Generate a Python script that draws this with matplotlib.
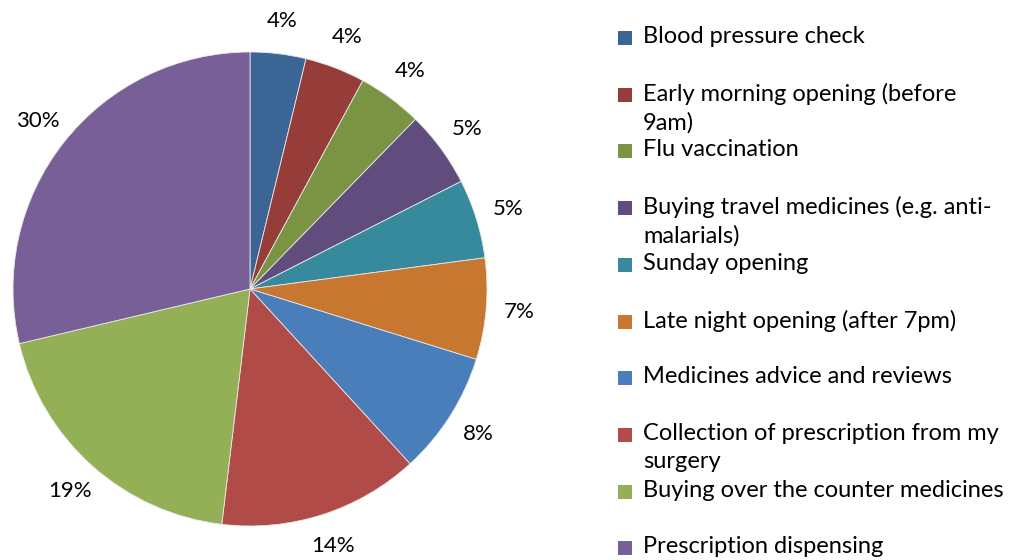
import matplotlib.pyplot as plt
from matplotlib.patches import Rectangle

# Services and their share (wedge sizes, labels as printed)
categories = [
    "Blood pressure check",
    "Early morning opening (before\n9am)",
    "Flu vaccination",
    "Buying travel medicines (e.g. anti-\nmalarials)",
    "Sunday opening",
    "Late night opening (after 7pm)",
    "Medicines advice and reviews",
    "Collection of prescription from my\nsurgery",
    "Buying over the counter medicines",
    "Prescription dispensing",
]
shares = [3.8, 4.1, 4.4, 5.2, 5.4, 6.9, 8.4, 13.7, 19.4, 28.7]
pct_labels = ["4%", "4%", "4%", "5%", "5%", "7%", "8%", "14%", "19%", "30%"]
colors = [
    "#3A6595", "#963D3A", "#7A9443", "#604D7E", "#378A9E",
    "#C7772F", "#4A7EBB", "#B14B47", "#93B056", "#795F97",
]

plt.rcParams["font.family"] = ["Lato", "DejaVu Sans"]

W, H = 1025, 560
fig = plt.figure(figsize=(W / 100, H / 100), dpi=100)
ax = fig.add_axes([0, 0, 1, 1])

wedges, texts = ax.pie(
    shares,
    labels=pct_labels,
    colors=colors,
    startangle=90,
    counterclock=False,
    center=(250, H - 289),
    radius=237,
    labeldistance=1.14,
    wedgeprops=dict(edgecolor="#e8e8e8", linewidth=0.6),
    textprops=dict(fontsize=16, color="#000000"),
)
for t in texts:
    t.set_horizontalalignment("center")
    t.set_verticalalignment("center")

# pie() resets the limits, so set the pixel frame afterwards
ax.set_xlim(0, W)
ax.set_ylim(0, H)
ax.set_aspect("equal")
ax.axis("off")

# hand-made legend, one row every ~56.7 px
for i, (name, w) in enumerate(zip(categories, wedges)):
    y = H - (38 + i * 56.7)
    ax.add_patch(Rectangle((618, y - 7), 14, 14, facecolor=w.get_facecolor(),
                           edgecolor="none"))
    ax.text(643, y + 12, name, fontsize=17, va="top", ha="left",
            color="#000000", linespacing=1.4)

fig.savefig("out.png", dpi=100)
